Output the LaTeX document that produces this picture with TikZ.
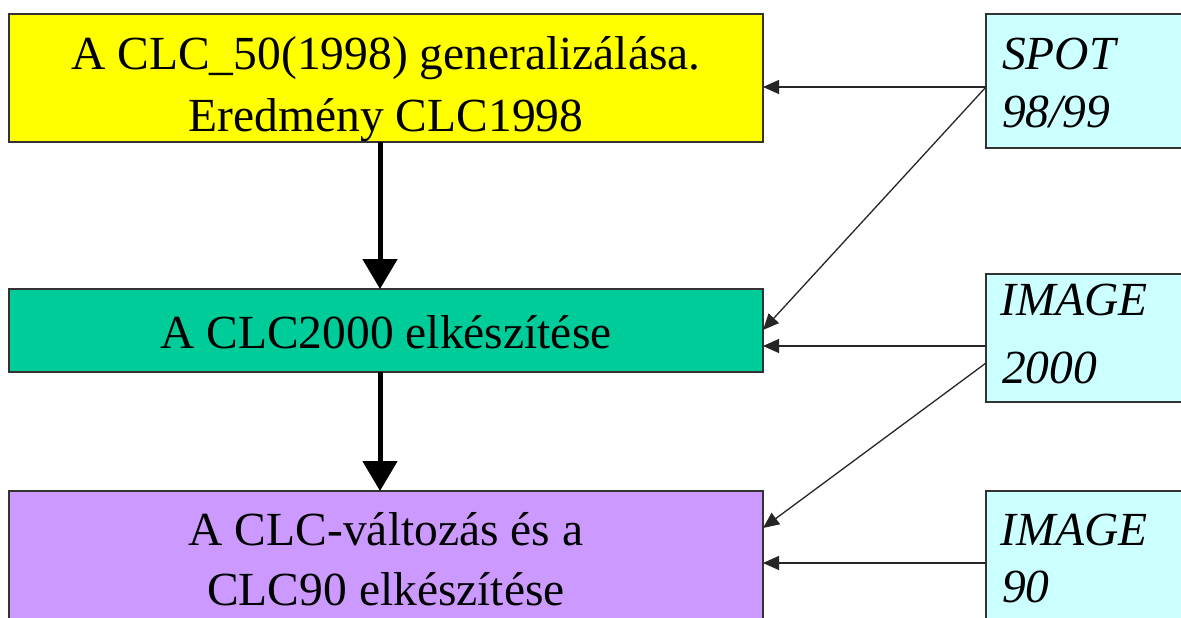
\documentclass[tikz,border=0pt]{standalone}
\usepackage{fontspec}
\setmainfont{Liberation Serif}
\usetikzlibrary{arrows.meta,calc}
\definecolor{cyellow}{HTML}{FFFF00}
\definecolor{cgreen}{HTML}{00CC99}
\definecolor{cpurple}{HTML}{CC99FF}
\definecolor{ccyan}{HTML}{CCFFFF}
\definecolor{cline}{HTML}{333333}
\tikzset{
  mainbox/.style={draw=cline, line width=1.5pt, rectangle, inner sep=0pt, outer sep=0pt, minimum width=754pt},
  srcbox/.style={draw=cline, line width=1.5pt, rectangle, inner sep=0pt, outer sep=0pt, fill=ccyan, minimum width=230pt, anchor=north west},
  maintext/.style={font=\fontsize{47.5}{57}\selectfont, inner sep=0pt, anchor=base},
  srctext/.style={font=\fontsize{47.5}{57}\selectfont\itshape, inner sep=0pt, anchor=base west},
  thinarrow/.style={draw=black!85, line width=1.3pt, -{Triangle[length=16pt,width=14pt]}},
  thickarrow/.style={draw=black, line width=5pt, -{Triangle[length=30pt,width=34pt]}}
}
\begin{document}
\begin{tikzpicture}[x=1pt,y=-1pt]
\clip (0,0) rectangle (1181,618);
\fill[white] (0,0) rectangle (1181,618);
% left boxes
\node[mainbox, fill=cyellow, minimum height=128pt] (yb) at (386,78) {};
\node[mainbox, fill=cgreen, minimum height=83pt] (gb) at (386,330.5) {};
\node[mainbox, fill=cpurple, minimum height=160pt, anchor=north] (pb) at (386,491) {};
% left texts
\node[maintext] (yt1) at (386,70) {A CLC\_50(1998) generalizálása.};
\node[maintext] (yt2) at (386,131) {Eredmény CLC1998};
\node[maintext] (gt) at (386,348) {A CLC2000 elkészítése};
\node[maintext] (pt1) at (386,545) {A CLC-változás és a};
\node[maintext] (pt2) at (386,605) {CLC90 elkészítése};
% right boxes
\node[srcbox, minimum height=134pt] (spot) at (986,14) {};
\node[srcbox, minimum height=128pt] (im2) at (986,274) {};
\node[srcbox, minimum height=160pt] (im9) at (986,491) {};
% right texts
\node[srctext] (st1) at (1002,70) {SPOT};
\node[srctext] (st2) at (1002,127) {98/99};
\node[srctext] (it1) at (1000,315) {IMAGE};
\node[srctext] (it2) at (1002,383) {2000};
\node[srctext] (jt1) at (1000,545) {IMAGE};
\node[srctext] (jt2) at (1002,602) {90};
% thick arrows
\draw[thickarrow] (yb.south -| 380,0) -- (gb.north -| 380,0);
\draw[thickarrow] (gb.south -| 380,0) -- (pb.north -| 380,0);
% thin arrows
\coordinate (s1) at ($(spot.west)+(0,6)$);
\coordinate (g1) at ($(gb.east)+(0,-0.5)$);
\coordinate (i1) at ($(im2.west)+(0,8)$);
\coordinate (i2) at ($(im2.west)+(0,25)$);
\coordinate (p1) at ($(pb.north east)+(0,37)$);
\coordinate (j1) at ($(im9.north west)+(0,72)$);
\draw[thinarrow] (s1) -- (s1 -| yb.east);
\draw[thinarrow] (s1) -- (g1);
\draw[thinarrow] (i1) -- (i1 -| gb.east);
\draw[thinarrow] (i2) -- (p1);
\draw[thinarrow] (j1) -- (j1 -| pb.east);
\end{tikzpicture}
\end{document}
